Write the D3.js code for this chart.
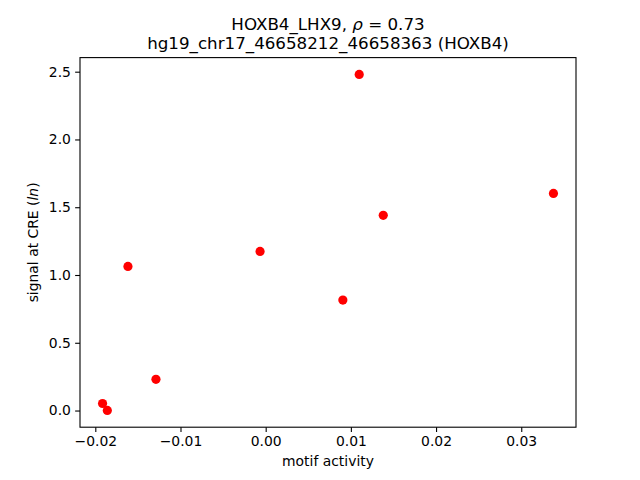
<!DOCTYPE html>
<html><head><meta charset="utf-8">
<script src="https://cdn.jsdelivr.net/npm/d3@7"></script>
<style>body{margin:0;background:#fff}svg{display:block}text{font-family:"DejaVu Sans",sans-serif;fill:#000}</style>
</head><body>
<script>
const motifActivity = [-0.01915, -0.01859, -0.01617, -0.01288, -0.00066, 0.00906, 0.01098, 0.01380, 0.03378];
const signalCRE     = [0.052, 0.001, 1.063, 0.230, 1.174, 0.815, 2.480, 1.440, 1.602];
const xTicks = [-0.02, -0.01, 0.00, 0.01, 0.02, 0.03];
const yTicks = [0.0, 0.5, 1.0, 1.5, 2.0, 2.5];
const titleLine1 = ["HOXB4_LHX9, ", "ρ", " = 0.73"];
const titleLine2 = "hg19_chr17_46658212_46658363 (HOXB4)";

const W = 640, H = 480;
const L = 80, R = 576, T = 57.6, B = 427.2;
const svg = d3.select("body").append("svg").attr("width", W).attr("height", H);

function pad(arr){const mn=d3.min(arr),mx=d3.max(arr),m=(mx-mn)*0.05;return [mn-m,mx+m];}
const x = d3.scaleLinear().domain(pad(motifActivity)).range([L, R]);
const y = d3.scaleLinear().domain(pad(signalCRE)).range([B, T]);

const fmtX = d => (d<0?"\u2212":"") + Math.abs(d).toFixed(2);
const fmtY = d => d.toFixed(1);

const xAxis = svg.append("g").attr("transform", `translate(0,${B})`)
  .call(d3.axisBottom(x).tickValues(xTicks).tickFormat(fmtX).tickSize(4.86).tickPadding(4.2));
const yAxis = svg.append("g").attr("transform", `translate(${L},0)`)
  .call(d3.axisLeft(y).tickValues(yTicks).tickFormat(fmtY).tickSize(4.86).tickPadding(4.2));
[xAxis, yAxis].forEach(g => {
  g.select(".domain").remove();
  g.selectAll("line").attr("stroke", "#000").attr("stroke-width", 1.1);
  g.selectAll("text").attr("font-family", "DejaVu Sans").attr("font-size", "13.9px").attr("fill", "#000");
});

svg.append("g").selectAll("circle")
  .data(motifActivity.map((v,i)=>[v, signalCRE[i]]))
  .join("circle")
  .attr("cx", d => x(d[0])).attr("cy", d => y(d[1])).attr("r", 4.6).attr("fill", "#ff0000");

svg.append("rect").attr("x", L).attr("y", T).attr("width", R-L).attr("height", B-T)
  .attr("fill", "none").attr("stroke", "#000").attr("stroke-width", 1.1);

const t1 = svg.append("text").attr("x", (L+R)/2).attr("y", 29.5).attr("text-anchor", "middle").attr("font-size", "16.7px");
t1.append("tspan").text(titleLine1[0]);
t1.append("tspan").attr("font-style", "italic").text(titleLine1[1]);
t1.append("tspan").text(titleLine1[2]);
svg.append("text").attr("x", (L+R)/2).attr("y", 49.3).attr("text-anchor", "middle").attr("font-size", "16.7px").text(titleLine2);

svg.append("text").attr("x", (L+R)/2).attr("y", 466).attr("text-anchor", "middle").attr("font-size", "13.9px").text("motif activity");

const yl = svg.append("text").attr("transform", `translate(37.5,${(T+B)/2}) rotate(-90)`).attr("text-anchor", "middle").attr("font-size", "13.9px");
yl.append("tspan").text("signal at CRE (");
yl.append("tspan").attr("font-style", "italic").text("ln");
yl.append("tspan").text(")");
</script>
</body></html>
